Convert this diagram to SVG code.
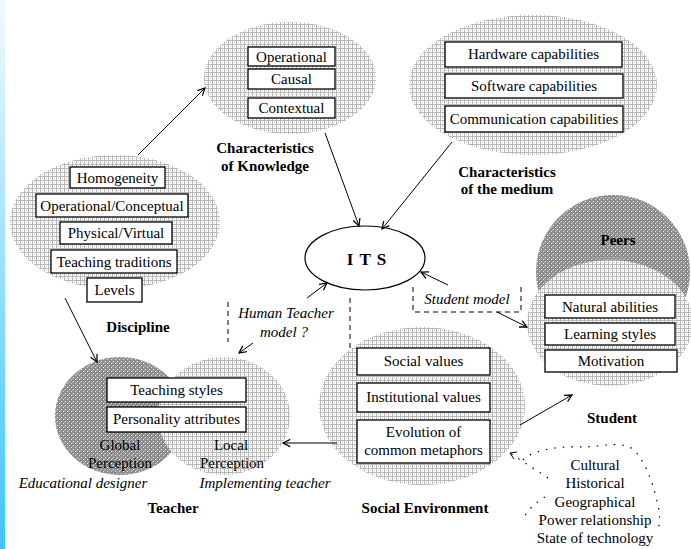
<svg xmlns="http://www.w3.org/2000/svg" width="691" height="549" viewBox="0 0 691 549">
  <defs>
    <linearGradient id="strip" x1="0" y1="0" x2="0" y2="1">
      <stop offset="0" stop-color="#f2f9fe"/>
      <stop offset="1" stop-color="#3cc6f8"/>
    </linearGradient>
    <!-- fine cross-hatch screens -->
    <pattern id="hatchLight" width="4" height="4" patternUnits="userSpaceOnUse">
      <rect width="4" height="4" fill="#ffffff"/>
      <rect x="0" y="0" width="4" height="1" fill="#b8b8b8"/>
      <rect x="0" y="0" width="1" height="4" fill="#b8b8b8"/>
      <rect x="2" y="2" width="1" height="1" fill="#cccccc"/>
    </pattern>
    <pattern id="hatchDark" width="4" height="4" patternUnits="userSpaceOnUse">
      <rect width="4" height="4" fill="#8e8e8e"/>
      <rect x="1" y="1" width="1" height="1" fill="#e0e0e0"/>
      <rect x="3" y="3" width="1" height="1" fill="#e0e0e0"/>
      <rect x="0" y="2" width="1" height="1" fill="#b4b4b4"/>
    </pattern>
    <marker id="arrow" viewBox="0 0 10 10" refX="9" refY="5" markerWidth="9" markerHeight="9" markerUnits="userSpaceOnUse" orient="auto">
      <path d="M1,1 L9,5 L1,9" fill="none" stroke="#000" stroke-width="1.4"/>
    </marker>
  </defs>
  <style>
    .box { fill: #ffffff; stroke: #000; stroke-width: 1.3; }
    text { font-family: 'Liberation Serif', 'Times New Roman', 'DejaVu Serif', serif; font-size: 15px; fill: #000; text-anchor: middle; }
    .b { font-weight: bold; }
    .i { font-style: italic; }
    .light { fill: url(#hatchLight); }
    .dark { fill: url(#hatchDark); }
    .edge { stroke: #000; stroke-width: 1; fill: none; marker-end: url(#arrow); }
    .dash { stroke: #000; stroke-width: 1; fill: none; stroke-dasharray: 5 4; }
    .dots { stroke: #000; stroke-width: 1.2; fill: none; stroke-dasharray: 1.5 7; }
  </style>

  <rect width="691" height="549" fill="#ffffff"/>
  <rect x="0" y="0" width="5" height="549" fill="url(#strip)"/>

  <!-- Characteristics of Knowledge -->
  <g id="knowledge">
    <ellipse class="light" cx="290" cy="78" rx="86" ry="56"/>
    <rect class="box" x="248" y="47" width="87" height="19"/>
    <text x="291.5" y="62">Operational</text>
    <rect class="box" x="248" y="69" width="87" height="20"/>
    <text x="291.5" y="84">Causal</text>
    <rect class="box" x="248" y="98" width="87" height="20"/>
    <text x="291.5" y="113">Contextual</text>
    <text class="b" x="265" y="153">Characteristics</text>
    <text class="b" x="265" y="171">of Knowledge</text>
  </g>

  <!-- Characteristics of the medium -->
  <g id="medium">
    <ellipse class="light" cx="533" cy="85" rx="124" ry="70"/>
    <rect class="box" x="445" y="42" width="177" height="25"/>
    <text x="533.5" y="59">Hardware capabilities</text>
    <rect class="box" x="445" y="74" width="178" height="24"/>
    <text x="534" y="91">Software capabilities</text>
    <rect class="box" x="445" y="106" width="178" height="26"/>
    <text x="534" y="124">Communication capabilities</text>
    <text class="b" x="507" y="177">Characteristics</text>
    <text class="b" x="507" y="194">of the medium</text>
  </g>

  <!-- Discipline -->
  <g id="discipline">
    <ellipse class="light" cx="115" cy="222" rx="105" ry="67"/>
    <rect class="box" x="70" y="167" width="95" height="21"/>
    <text x="117.5" y="183">Homogeneity</text>
    <rect class="box" x="36" y="194" width="152" height="23"/>
    <text x="112" y="211">Operational/Conceptual</text>
    <rect class="box" x="60" y="222" width="112" height="22"/>
    <text x="116" y="238">Physical/Virtual</text>
    <rect class="box" x="51" y="250" width="126" height="23"/>
    <text x="114" y="267">Teaching traditions</text>
    <rect class="box" x="87" y="278" width="55" height="24"/>
    <text x="114.5" y="295">Levels</text>
    <text class="b" x="138" y="332">Discipline</text>
  </g>

  <!-- ITS -->
  <g id="its">
    <ellipse cx="365" cy="258" rx="60" ry="32" fill="#ffffff" stroke="#000" stroke-width="1.2"/>
    <text class="b" x="367" y="265" style="font-size:17px; letter-spacing:1px">I T S</text>
  </g>

  <!-- Human Teacher model -->
  <g id="human-teacher-model">
    <text class="i" x="286" y="318">Human Teacher</text>
    <text class="i" x="284" y="337">model ?</text>
  </g>

  <!-- Student model -->
  <g id="student-model">
    <text class="i" x="467" y="304">Student model</text>
  </g>

  <!-- Teacher -->
  <g id="teacher">
    <ellipse class="dark" cx="120" cy="416" rx="65" ry="59"/>
    <ellipse class="light" cx="224" cy="416" rx="66" ry="59"/>
    <rect class="box" x="107" y="378" width="139" height="24"/>
    <text x="176.5" y="395">Teaching styles</text>
    <rect class="box" x="107" y="407" width="139" height="25"/>
    <text x="176.5" y="424">Personality attributes</text>
    <text x="120" y="450">Global</text>
    <text x="120" y="468">Perception</text>
    <text x="231" y="450">Local</text>
    <text x="232" y="468">Perception</text>
    <text class="i" x="83" y="488">Educational designer</text>
    <text class="i" x="265" y="488">Implementing teacher</text>
    <text class="b" x="173" y="513">Teacher</text>
  </g>

  <!-- Social Environment -->
  <g id="social-environment">
    <ellipse class="light" cx="422" cy="406" rx="103" ry="79"/>
    <rect class="box" x="357" y="348" width="133" height="27"/>
    <text x="423.5" y="366">Social values</text>
    <rect class="box" x="357" y="383" width="133" height="29"/>
    <text x="423.5" y="402">Institutional values</text>
    <rect class="box" x="357" y="420" width="133" height="43"/>
    <text x="423.5" y="437">Evolution of</text>
    <text x="423.5" y="455">common metaphors</text>
    <text class="b" x="425" y="513">Social Environment</text>
  </g>

  <!-- Student -->
  <g id="student">
    <circle class="dark" cx="613" cy="272" r="77"/>
    <ellipse class="light" cx="610" cy="323" rx="83" ry="63"/>
    <text class="b" x="618" y="245">Peers</text>
    <rect class="box" x="545" y="295" width="130" height="23"/>
    <text x="610" y="312">Natural abilities</text>
    <rect class="box" x="545" y="323" width="130" height="22"/>
    <text x="610" y="339">Learning styles</text>
    <rect class="box" x="545" y="350" width="132" height="22"/>
    <text x="611" y="366">Motivation</text>
    <text class="b" x="612" y="423">Student</text>
  </g>

  <!-- Context factors -->
  <g id="context-factors">
    <path class="dots" d="M523,460 C535,448 565,446 585,447 C605,446 625,440 636,452 C650,470 654,490 658,505 C660,515 660,522 658,530"/>
    <path class="dots" d="M545,497 C535,503 527,510 523,520"/>
    <text x="595" y="470">Cultural</text>
    <text x="595" y="488">Historical</text>
    <text x="595" y="507">Geographical</text>
    <text x="595" y="525">Power relationship</text>
    <text x="595" y="543">State of technology</text>
  </g>

  <!-- Connectors -->
  <g id="connectors">
    <line class="edge" x1="138" y1="155" x2="205" y2="88"/>
    <line class="edge" x1="325" y1="133" x2="359" y2="226"/>
    <line class="edge" x1="452" y1="142" x2="382" y2="229"/>
    <line class="edge" x1="448" y1="285" x2="421" y2="272"/>
    <line class="edge" x1="307" y1="298" x2="327" y2="283"/>
    <line class="edge" x1="253" y1="343" x2="239" y2="353"/>
    <line class="edge" x1="65" y1="298" x2="97" y2="362"/>
    <line class="edge" x1="337" y1="443" x2="283" y2="443"/>
    <line class="edge" x1="520" y1="425" x2="572" y2="395"/>
    <line class="edge" x1="497" y1="312" x2="527" y2="327"/>
    <line class="dash" x1="228" y1="302" x2="228" y2="342"/>
    <line class="dash" x1="350" y1="298" x2="350" y2="350"/>
    <path class="dash" d="M413,287 V312 H521 V287"/>
    <path class="dots" d="M548,478 L510,453"/>
    <path d="M517,452 L510,453 L514,459" fill="none" stroke="#000" stroke-width="1"/>
  </g>
</svg>
